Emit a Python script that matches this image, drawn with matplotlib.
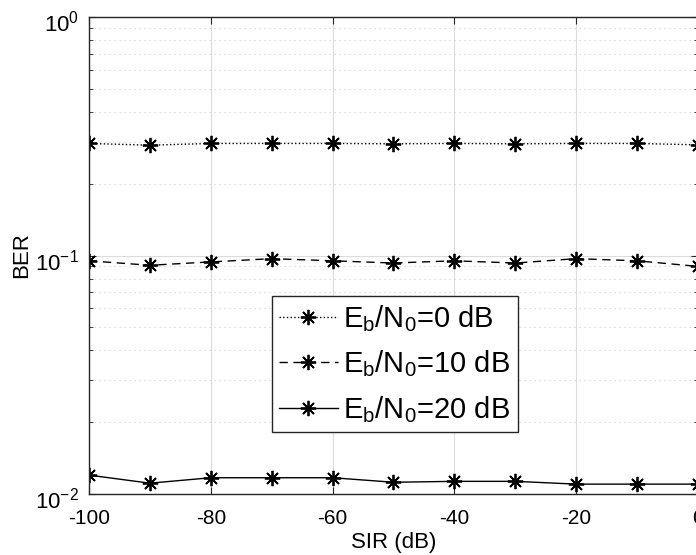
import matplotlib
matplotlib.use("Agg")
import matplotlib.pyplot as plt
import matplotlib.transforms as mtransforms
from matplotlib.ticker import LogLocator, NullFormatter

plt.rcParams['font.family'] = ['Liberation Sans', 'DejaVu Sans']
plt.rcParams['mathtext.fontset'] = 'custom'
plt.rcParams['mathtext.rm'] = 'Liberation Sans'
plt.rcParams['mathtext.it'] = 'Liberation Sans'

# data
sir = [-100, -90, -80, -70, -60, -50, -40, -30, -20, -10, 0]
ber_0db = [0.295, 0.29, 0.295, 0.295, 0.295, 0.294, 0.295, 0.294, 0.295, 0.295, 0.291]
ber_10db = [0.095, 0.091, 0.094, 0.097, 0.095, 0.093, 0.095, 0.093, 0.097, 0.095, 0.090]
ber_20db = [0.0120, 0.0111, 0.0117, 0.0117, 0.0117, 0.0112, 0.0113, 0.0113, 0.0110, 0.0110, 0.0110]
labels = [r'$\mathregular{E_b/N_0}$=0 dB', r'$\mathregular{E_b/N_0}$=10 dB', r'$\mathregular{E_b/N_0}$=20 dB']
xticks = [-100, -80, -60, -40, -20, 0]
yticks = [1e-2, 1e-1, 1]
ylabels = [r'$\mathregular{10^{-2}}$', r'$\mathregular{10^{-1}}$', r'$\mathregular{10^{0}}$']

fig = plt.figure(figsize=(6.96, 5.55), dpi=100)
ax = fig.add_axes([89 / 696, 61 / 555, 609 / 696, 477 / 555])

star = (8, 2, 0)  # matlab-like asterisk
style = dict(color='black', marker=star, markersize=11, markeredgewidth=1.3, lw=1)
ax.semilogy(sir, ber_0db, linestyle=':', label=labels[0], **style)
ax.semilogy(sir, ber_10db, linestyle='--', dashes=(6, 4), label=labels[1], **style)
ax.semilogy(sir, ber_20db, linestyle='-', label=labels[2], **style)

ax.set_xlim(-100, 0)
ax.set_ylim(1e-2, 1)
ax.set_xticks(xticks)
ax.set_xticklabels([str(t) for t in xticks])
ax.set_yticks(yticks)
ax.set_yticklabels(ylabels)
ax.yaxis.set_minor_locator(LogLocator(base=10, subs=range(2, 10)))
ax.yaxis.set_minor_formatter(NullFormatter())

ax.tick_params(which='both', direction='in', top=True, right=True, labelsize=15, color='#262626')
ax.tick_params(which='major', length=5)
ax.tick_params(which='minor', length=3)
ax.tick_params(axis='x', which='major', pad=11)
ax.tick_params(axis='y', which='major', pad=7, labelsize=16)
ax.grid(True, which='major', color='#dcdcdc', linestyle='-', lw=0.8)
ax.grid(True, which='minor', axis='y', color='#cccccc', linestyle=(0, (1, 3.5)), lw=0.8)
ax.set_axisbelow(True)
for s in ax.spines.values():
    s.set_color('#262626')
    s.set_linewidth(1)

# push the y labels a bit down, like matlab
shift = mtransforms.ScaledTranslation(0, -3 / 72, fig.dpi_scale_trans)
for t in ax.yaxis.get_major_ticks():
    t.label1.set_transform(t.label1.get_transform() + shift)

ax.set_xlabel('SIR (dB)', fontsize=16, labelpad=3)
ax.set_ylabel('BER', fontsize=16, labelpad=2)

leg = ax.legend(loc='upper left', bbox_to_anchor=(183 / 609, 198 / 477), fontsize=21,
                fancybox=False, edgecolor='#262626', framealpha=1,
                handlelength=2.0, handletextpad=0.2, borderpad=0.25, labelspacing=0.5,
                borderaxespad=0)
leg.get_frame().set_linewidth(1)

fig.savefig('out.png', dpi=100)
